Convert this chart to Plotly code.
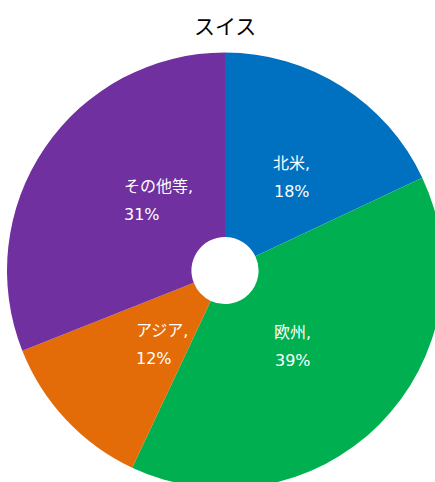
import math
import plotly.graph_objects as go

title = "スイス"
regions = ["北米", "欧州", "アジア", "その他等"]
shares = [18, 39, 12, 31]
colors = ["#0070C0", "#00B050", "#E36C09", "#7030A0"]

W, H = 443, 489
L, R, T, B = 7, 0, 52, 0
pw, ph = W - L - R, H - T - B
radius = min(pw, ph) / 2
cx, cy = L + pw / 2, T + ph / 2

fig = go.Figure(go.Pie(
    labels=regions, values=shares, sort=False, direction="clockwise",
    rotation=0, hole=0.154, textinfo="none", hoverinfo="label+percent",
    marker=dict(colors=colors, line=dict(width=0)),
    domain=dict(x=[0, 1], y=[0, 1]), showlegend=False,
))

total = sum(shares)
cum = 0
font = dict(family="DejaVu Sans, Noto Sans CJK JP", size=16, color="white")
for name, v in zip(regions, shares):
    mid = (cum + v / 2) / total * 2 * math.pi
    cum += v
    px = cx + 0.57 * radius * math.sin(mid)
    py = cy - 0.57 * radius * math.cos(mid)
    xp = (px - L) / pw
    yp = 1 - (py - T) / ph
    pct = round(v / total * 100)
    fig.add_annotation(x=xp, y=yp, xref="paper", yref="paper", text=name + ",",
                       showarrow=False, font=font, yshift=14)
    fig.add_annotation(x=xp, y=yp, xref="paper", yref="paper", text=f"{pct}%",
                       showarrow=False, font=font, yshift=-14)

fig.add_annotation(x=0.5, y=1, xref="paper", yref="paper", yanchor="middle",
                   yshift=T - 25, text=title, showarrow=False,
                   font=dict(family="Noto Sans CJK JP", size=21, color="black"))

fig.update_layout(width=W, height=H, margin=dict(l=L, r=R, t=T, b=B),
                  paper_bgcolor="white", plot_bgcolor="white")

fig.write_html("out.html", config={"displayModeBar": False},
               post_script="document.body.style.margin='0';document.body.style.overflow='hidden';")
